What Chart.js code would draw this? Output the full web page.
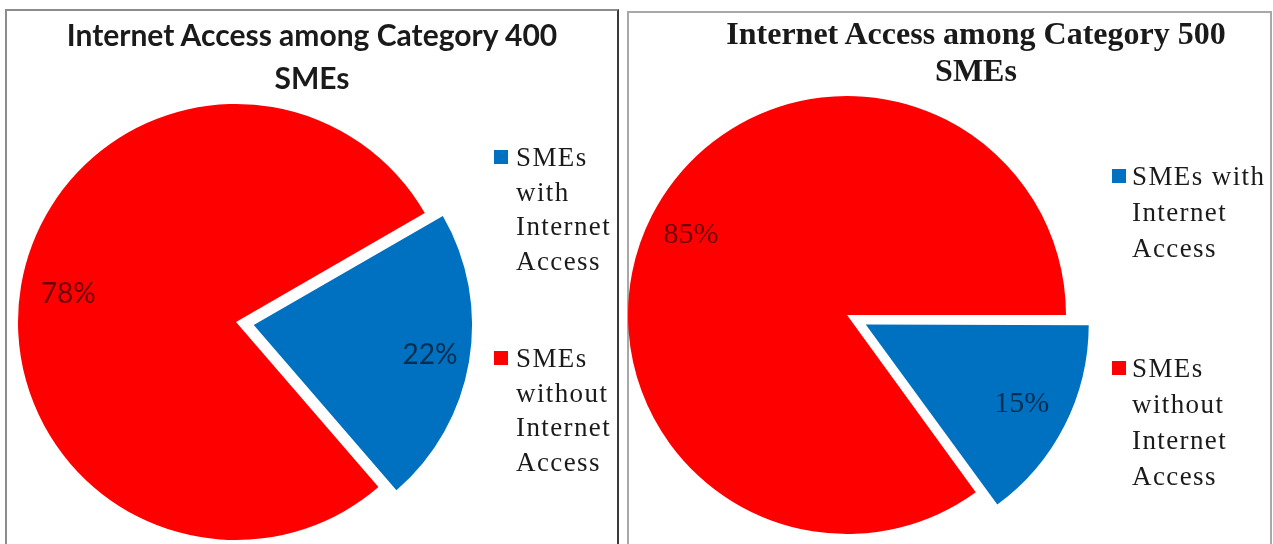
<!DOCTYPE html>
<html>
<head>
<meta charset="utf-8">
<title>Internet Access among SMEs</title>
<script src="https://cdn.jsdelivr.net/npm/chart.js@4.4.1/dist/chart.umd.min.js"></script>
<style>
  html, body { margin: 0; padding: 0; background: #fff; }
  body { width: 1273px; height: 544px; position: relative; overflow: hidden; }
  .panel { position: absolute; box-sizing: border-box; }
  #panel400 { left: 5px; top: 9px; width: 614px; height: 580px; border: 2px solid #8c8c8c; border-right-color: #3a3a3a; }
  #panel500 { left: 627px; top: 11px; width: 645px; height: 580px; border: 2px solid #a8a8a8; }
  canvas { position: absolute; top: 0; }
  #chart400 { left: 0; }
  #chart500 { left: 620px; }
  .title { position: absolute; text-align: center; color: #1a1a1a; white-space: nowrap; }
  #title400 { left: 5px; width: 614px; top: 13px; font: bold 30px Lato, sans-serif; line-height: 43px; }
  #title500 { left: 681px; width: 590px; top: 15px; font: bold 32px 'Liberation Serif', serif; line-height: 37px; }
  .legend-item { position: absolute; font-family: 'Liberation Serif', serif; font-size: 27px; letter-spacing: 1.4px; color: #1a1a1a; }
  .legend-item .box { position: absolute; width: 14px; height: 14px; }
  .legend-item .text { position: absolute; white-space: nowrap; }
</style>
</head>
<body>
<div class="panel" id="panel400"></div>
<div class="panel" id="panel500"></div>
<canvas id="chart400" width="620" height="544"></canvas>
<canvas id="chart500" width="653" height="544"></canvas>
<div class="title" id="title400"></div>
<div class="title" id="title500"></div>
<div id="legend400"></div>
<div id="legend500"></div>

<script>
// --- data ---
const title400 = ['Internet Access among Category 400', 'SMEs'];
const title500 = ['Internet Access among Category 500', 'SMEs'];

const labels400 = [['SMEs', 'with', 'Internet', 'Access'], ['SMEs', 'without', 'Internet', 'Access']];
const labels500 = [['SMEs with', 'Internet', 'Access'], ['SMEs', 'without', 'Internet', 'Access']];

const values400 = [22, 78];
const values500 = [15, 85];

const sliceColors = ['#0070C0', '#FF0000'];

// value labels sitting inside each slice
const sliceLabels = {
    id: 'sliceLabels',
    afterDatasetsDraw(chart, args, opts) {
        const { ctx } = chart;
        const meta = chart.getDatasetMeta(0);
        const ds = chart.data.datasets[0];
        ctx.save();
        ctx.font = opts.font;
        ctx.fillStyle = opts.color;
        ctx.textAlign = 'center';
        ctx.textBaseline = 'middle';
        meta.data.forEach((arc, i) => {
            const { x, y, startAngle, endAngle, outerRadius } = arc.getProps(['x', 'y', 'startAngle', 'endAngle', 'outerRadius'], true);
            const mid = (startAngle + endAngle) / 2;
            const shift = (arc.options.offset || 0) / 4;
            const r = shift + outerRadius * opts.position[i];
            ctx.fillText(ds.data[i] + '%', x + Math.cos(mid) * r, y + Math.sin(mid) * r);
        });
        ctx.restore();
    }
};

function makePie(id, values, labels, cfg) {
    return new Chart(document.getElementById(id), {
        type: 'pie',
        data: {
            labels: labels,
            datasets: [{
                data: values,
                backgroundColor: sliceColors,
                borderWidth: 0,
                offset: cfg.offset,
            }],
        },
        options: {
            responsive: false,
            animation: false,
            events: [],
            rotation: cfg.rotation,
            radius: cfg.radius,
            layout: { padding: cfg.padding },
            plugins: {
                legend: { display: false },
                tooltip: { enabled: false },
                sliceLabels: cfg.labels,
            },
        },
        plugins: [sliceLabels],
    });
}

function fillTitle(id, lines) {
    document.getElementById(id).innerHTML = lines.join('<br>');
}

// legend boxes built from the chart's own labels and colours
function buildLegend(id, chart, pos) {
    const host = document.getElementById(id);
    chart.data.labels.forEach((lines, i) => {
        const item = document.createElement('div');
        item.className = 'legend-item';
        item.style.left = pos.x + 'px';
        item.style.top = pos.tops[i] + 'px';
        item.style.lineHeight = pos.lineHeight + 'px';

        const box = document.createElement('div');
        box.className = 'box';
        box.style.background = chart.data.datasets[0].backgroundColor[i];
        box.style.left = '0px';
        box.style.top = pos.boxTop + 'px';

        const text = document.createElement('div');
        text.className = 'text';
        text.style.left = pos.textGap + 'px';
        text.style.top = '0px';
        text.innerHTML = lines.join('<br>');

        item.appendChild(box);
        item.appendChild(text);
        host.appendChild(item);
    });
}

const chart400 = makePie('chart400', values400, labels400, {
    rotation: 60,
    radius: 218,
    offset: [72, 0],
    padding: { left: 0, right: 148, top: 100, bottom: 0 },
    labels: { font: '28px Lato, sans-serif', color: 'rgba(0,0,0,0.58)', position: [0.82, 0.78] },
});

const chart500 = makePie('chart500', values500, labels500, {
    rotation: 90,
    radius: 219,
    offset: [84, 0],
    padding: { left: 0, right: 199, top: 86, bottom: 0 },
    labels: { font: '30px "Liberation Serif", serif', color: 'rgba(0,0,0,0.58)', position: [0.8, 0.8] },
});

fillTitle('title400', title400);
fillTitle('title500', title500);

buildLegend('legend400', chart400, { x: 494, textGap: 22, tops: [140, 341], lineHeight: 34.5, boxTop: 10 });
buildLegend('legend500', chart500, { x: 1112, textGap: 20, tops: [158, 350], lineHeight: 36, boxTop: 11 });
</script>
</body>
</html>
